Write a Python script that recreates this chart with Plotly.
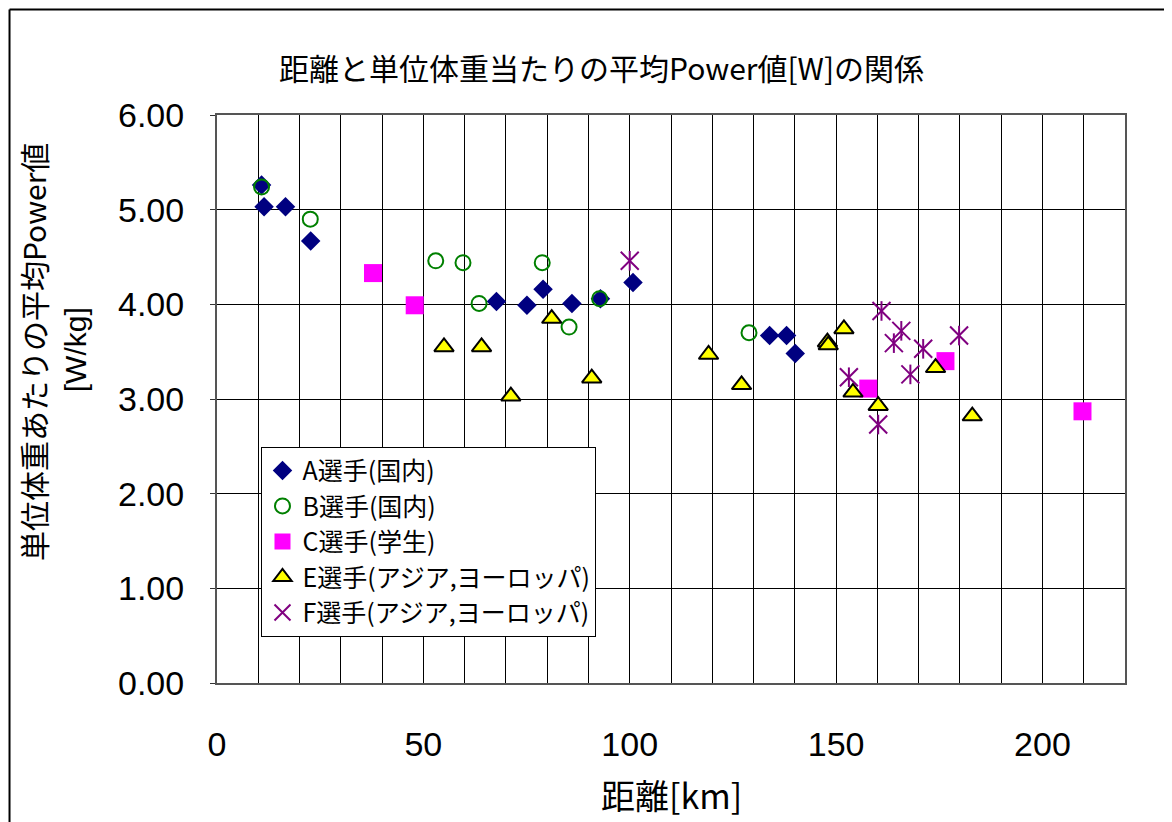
import plotly.graph_objects as go

# ---- data ----
a_name = "A選手(国内)"
a_x = [10.8, 11.4, 16.6, 22.7, 67.7, 75.1, 79.0, 86.0, 92.9, 100.8, 133.9, 138.0, 140.1]
a_y = [5.26, 5.03, 5.03, 4.67, 4.03, 3.99, 4.16, 4.01, 4.06, 4.23, 3.67, 3.67, 3.48]

b_name = "B選手(国内)"
b_x = [10.8, 22.6, 53.0, 59.6, 63.5, 78.8, 85.3, 92.7, 128.9]
b_y = [5.24, 4.90, 4.46, 4.44, 4.01, 4.44, 3.76, 4.06, 3.70]

c_name = "C選手(学生)"
c_x = [37.8, 47.9, 157.8, 176.5, 209.7]
c_y = [4.33, 3.99, 3.11, 3.40, 2.87]

e_name = "E選手(アジア,ヨーロッパ)"
e_x = [55.0, 64.1, 71.2, 81.1, 90.8, 119.1, 127.1, 147.9, 148.1, 151.9, 154.1, 160.2, 174.1, 183.0]
e_y = [3.55, 3.55, 3.03, 3.85, 3.22, 3.47, 3.15, 3.60, 3.57, 3.74, 3.07, 2.93, 3.33, 2.82]

f_name = "F選手(アジア,ヨーロッパ)"
f_x = [100.0, 153.1, 160.2, 161.0, 164.0, 165.8, 168.0, 171.1, 179.8]
f_y = [4.46, 3.23, 2.73, 3.93, 3.59, 3.72, 3.26, 3.53, 3.67]

x_ticks = [0, 50, 100, 150, 200]
y_ticks = [0, 1, 2, 3, 4, 5, 6]

title_text = "距離と単位体重当たりの平均Power値[W]の関係"
x_title = "距離[km]"
y_title_1 = "単位体重あたりの平均Power値"
y_title_2 = "[W/kg]"

CJK = "Noto Sans CJK JP"
LAT = "Liberation Sans, Arial, sans-serif"

fig = go.Figure()
fig.add_trace(go.Scatter(x=a_x, y=a_y, name=a_name, mode="markers",
                         marker=dict(symbol="diamond", size=15, color="#000080",
                                     line=dict(width=0))))
fig.add_trace(go.Scatter(x=b_x, y=b_y, name=b_name, mode="markers",
                         marker=dict(symbol="circle-open", size=15, color="#008000",
                                     line=dict(width=2, color="#008000"))))
fig.add_trace(go.Scatter(x=c_x, y=c_y, name=c_name, mode="markers",
                         marker=dict(symbol="square", size=18, color="#FF00FF",
                                     line=dict(width=0))))
fig.add_trace(go.Scatter(x=e_x, y=e_y, name=e_name, mode="markers",
                         marker=dict(symbol="triangle-up", size=17, color="#FFFF00",
                                     line=dict(width=2, color="#000000"))))
fig.add_trace(go.Scatter(x=f_x, y=f_y, name=f_name, mode="markers",
                         marker=dict(symbol="x-thin-open", size=18, color="#800080",
                                     line=dict(width=2, color="#800080"))))
fig.add_trace(go.Scatter(x=f_x, y=f_y, name=f_name, mode="markers",
                         showlegend=False,
                         marker=dict(symbol="line-ns-open", size=14, color="#800080",
                                     line=dict(width=2, color="#800080"))))

# page body has an 8px margin: figure is 1164x814 so it fills the 1172x822 window
fig.update_layout(
    width=1164, height=814,
    margin=dict(l=209, r=47, t=107, b=139, autoexpand=False),
    paper_bgcolor="white", plot_bgcolor="white",
    showlegend=True,
    legend=dict(x=0.049, y=0.416, xanchor="left", yanchor="top",
                bgcolor="white", bordercolor="#000000", borderwidth=1,
                font=dict(family=CJK, size=25, color="#000000"),
                tracegroupgap=0, itemsizing="trace"),
    xaxis=dict(range=[0, 220], tickmode="array", tickvals=x_ticks,
               ticktext=[str(v) for v in x_ticks],
               showgrid=True, gridcolor="#000000", gridwidth=1,
               minor=dict(dtick=10, tick0=0, showgrid=True, gridcolor="#000000", gridwidth=1),
               showline=True, mirror=True, linecolor="#555555", linewidth=2,
               ticks="", zeroline=False,
               tickfont=dict(family=LAT, size=34, color="#000000"),
               ticklabelstandoff=30),
    yaxis=dict(range=[0, 6], tickmode="array", tickvals=y_ticks,
               ticktext=[f"{v:.2f}" for v in y_ticks],
               showgrid=True, gridcolor="#000000", gridwidth=1,
               showline=True, mirror=True, linecolor="#555555", linewidth=2,
               ticks="outside", ticklen=5, tickcolor="#333333", tickwidth=1,
               zeroline=False,
               tickfont=dict(family=LAT, size=34, color="#000000"),
               ticklabelstandoff=19),
)

fig.add_annotation(text=title_text, xref="paper", yref="paper",
                   x=0.424, y=1.0845, xanchor="center", yanchor="middle",
                   showarrow=False, font=dict(family=CJK, size=30, color="#000000"))
fig.add_annotation(text=x_title, xref="paper", yref="paper",
                   x=0.5, y=-0.197, xanchor="center", yanchor="middle",
                   showarrow=False, font=dict(family=CJK, size=34, color="#000000"))
fig.add_annotation(text=y_title_1, xref="paper", yref="paper",
                   x=-0.2026, y=0.5827, xanchor="center", yanchor="middle",
                   textangle=-90, showarrow=False,
                   font=dict(family=CJK, size=30, color="#000000"))
fig.add_annotation(text=y_title_2, xref="paper", yref="paper",
                   x=-0.155, y=0.5863, xanchor="center", yanchor="middle",
                   textangle=-90, showarrow=False,
                   font=dict(family=LAT, size=30, color="#000000"))

# outer chart border (top and left edges visible in the reference)
fig.add_shape(type="line", xref="paper", yref="paper",
              x0=-0.2285, x1=1.1, y0=1.1857, y1=1.1857,
              line=dict(color="#000000", width=2))
fig.add_shape(type="line", xref="paper", yref="paper",
              x0=-0.2285, x1=-0.2285, y0=1.1857, y1=-0.3,
              line=dict(color="#000000", width=2))

fig.write_html("out.html")
